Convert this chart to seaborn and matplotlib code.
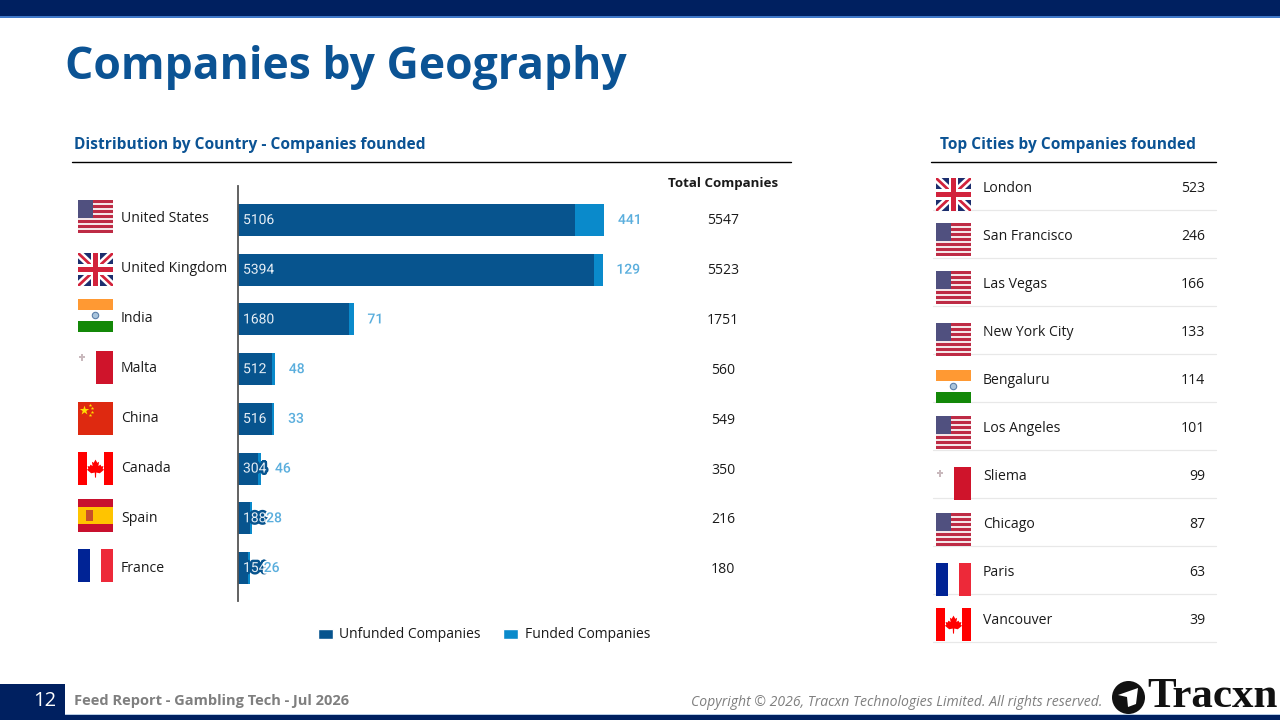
import matplotlib
matplotlib.use("Agg")
import matplotlib.pyplot as plt
import matplotlib.patheffects as pe
from matplotlib.patches import Rectangle, Circle, Polygon, Patch
from matplotlib.lines import Line2D
import pandas as pd
import seaborn as sns

countries = ["United States", "United Kingdom", "India", "Malta", "China", "Canada", "Spain", "France"]
unfunded = [5106, 5394, 1680, 512, 516, 304, 188, 154]
funded = [441, 129, 71, 48, 33, 46, 28, 26]
totals = [5547, 5523, 1751, 560, 549, 350, 216, 180]
cities = ["London", "San Francisco", "Las Vegas", "New York City", "Bengaluru",
          "Los Angeles", "Sliema", "Chicago", "Paris", "Vancouver"]
city_counts = [523, 246, 166, 133, 114, 101, 99, 87, 63, 39]
city_flags = ["uk", "us", "us", "us", "in", "us", "mt", "us", "fr", "ca"]
country_flags = ["us", "uk", "in", "mt", "cn", "ca", "es", "fr"]

NAVY = "#002060"
BLUE = "#07548E"
LIGHT = "#0A8ACB"
HEAD = "#0B5394"
LABEL = "#5AAEDD"
TXT = "#1a1a1a"

sns.set_theme(style="white")
plt.rcParams["font.family"] = ["Open Sans", "DejaVu Sans"]

fig = plt.figure(figsize=(12.8, 7.2), dpi=100, facecolor="white")
W, H = 1280, 720

bg = fig.add_axes([0, 0, 1, 1])
bg.set_xlim(0, W)
bg.set_ylim(H, 0)
bg.axis("off")


def rect(x, y, w, h, c, z=1, clip=None):
    r = Rectangle((x, y), w, h, fc=c, ec="none", zorder=z)
    bg.add_patch(r)
    if clip is not None:
        r.set_clip_path(clip)
    return r


def flag(kind, x, y, w=35, h=33):
    if kind == "us":
        for i in range(13):
            rect(x, y + i * h / 13, w, h / 13 + .1, "#BE2B45" if i % 2 == 0 else "#F4E6E8", 2)
        rect(x, y, w * .42, h * 7 / 13, "#50507F", 3)
    elif kind == "uk":
        clip = Rectangle((x, y), w, h, transform=bg.transData)
        rect(x, y, w, h, "#1C2E6E", 2)
        for (a, b, c, d) in ((x, y, x + w, y + h), (x, y + h, x + w, y)):
            for col, lw in (("white", 5.5), ("#D2233C", 2.0)):
                l = Line2D([a, c], [b, d], color=col, lw=lw, zorder=3, solid_capstyle="butt")
                bg.add_line(l)
                l.set_clip_path(clip)
        rect(x + w * .36, y, w * .28, h, "white", 4)
        rect(x, y + h * .34, w, h * .32, "white", 4)
        rect(x + w * .42, y, w * .16, h, "#D2233C", 5)
        rect(x, y + h * .41, w, h * .18, "#D2233C", 5)
    elif kind == "in":
        rect(x, y, w, h / 3, "#FF9933", 2)
        rect(x, y + h * 2 / 3, w, h / 3, "#138808", 2)
        bg.add_patch(Circle((x + w / 2, y + h / 2), 3.2, fc="#A9C4DC", ec="#5C7FA8", lw=.8, zorder=3))
    elif kind == "mt":
        rect(x + w * .5, y, w * .5, h, "#CF142B", 2)
        cx, cy = x + w * .1, y + h * .19
        rect(cx - 1, cy - 3.5, 2, 7, "#C9B9BD", 2)
        rect(cx - 3, cy - 1, 6, 2, "#C9B9BD", 2)
    elif kind == "cn":
        rect(x, y, w, h, "#DE2910", 2)
        bg.scatter([x + 6], [y + 8], marker="*", s=50, color="#FFDE00", lw=0, zorder=3)
        bg.scatter([x + 12, x + 14, x + 14, x + 12], [y + 3, y + 6, y + 10, y + 13],
                   marker="*", s=7, color="#FFDE00", lw=0, zorder=3)
    elif kind == "ca":
        rect(x, y, w * .27, h, "#FF0000", 2)
        rect(x + w * .73, y, w * .27, h, "#FF0000", 2)
        shape = [(0, -11), (2.5, -6.5), (5, -8), (4, -2), (7, -4), (8, -1.5), (11, -2), (10, 2), (12, 3),
                 (6, 8), (1, 7), (.7, 14), (-.7, 14), (-1, 7), (-6, 8), (-12, 3), (-10, 2), (-11, -2),
                 (-8, -1.5), (-7, -4), (-4, -2), (-5, -8), (-2.5, -6.5)]
        k = .72
        bg.add_patch(Polygon([(x + w / 2 + a * k, y + h * .47 + b * k) for a, b in shape],
                             fc="#FF0000", ec="none", zorder=3))
    elif kind == "es":
        rect(x, y, w, h, "#C8102E", 2)
        rect(x, y + h / 4, w, h / 2, "#FFC400", 3)
        rect(x + 8, y + 11, 7, 11, "#C8502A", 4)
    elif kind == "fr":
        rect(x, y, w / 3, h, "#002395", 2)
        rect(x + w * 2 / 3, y, w / 3, h, "#ED2939", 2)


# page furniture
rect(0, 0, W, 16, NAVY, 1)
rect(0, 16, W, 1.5, "#3F78C8", 1)
rect(0, 715, W, 5, NAVY, 1)
rect(65, 714, W - 65, 1, "#B8CCE4", 1)
rect(0, 684, 65, 31, NAVY, 2)
bg.text(65, 67, "Companies by Geography", fontsize=32, fontweight="bold", color=HEAD, va="center", ha="left")
bg.text(74, 145, "Distribution by Country - Companies founded", fontsize=11.2, fontweight="bold", color=HEAD, va="center")
bg.text(940, 145, "Top Cities by Companies founded", fontsize=11.2, fontweight="bold", color=HEAD, va="center")
bg.plot([72, 791], [162, 162], color="black", lw=1)
bg.plot([931, 1216], [162, 162], color="black", lw=1)
bg.text(723, 184, "Total Companies", fontsize=9.6, fontweight="bold", color=TXT, ha="center", va="center")

bg.text(45, 701, "12", fontsize=14.5, color="white", ha="center", va="center")
bg.text(74, 701, "Feed Report - Gambling Tech - Jul 2026", fontsize=10.5, fontweight="bold", color="#7F7F7F", va="center")
bg.text(1102, 702, "Copyright © 2026, Tracxn Technologies Limited. All rights reserved.", fontsize=10.05,
        style="italic", color="#7F7F7F", ha="right", va="center")
bg.add_patch(Circle((1128.5, 697.5), 16.5, fc="#111111", ec="none", zorder=3))
bg.add_patch(Polygon([(1118, 695), (1138, 688), (1136, 704), (1128, 707), (1127, 697)], fc="white", ec="none", zorder=4))
bg.text(1147, 697, "Tracxn", fontsize=31, fontweight="bold", family="Liberation Serif", color="#111111", va="center", ha="left")

# left column text and flags
label_y = [218.5, 268.5, 318.5, 368.5, 419, 469, 519, 569]
flag_y = [200, 253, 299, 351, 402, 452, 499, 549]
total_y = [220.5, 270.5, 320.5, 370, 420, 470, 519.5, 569.5]
for c, k, ly, fy, t, ty in zip(countries, country_flags, label_y, flag_y, totals, total_y):
    flag(k, 78, fy)
    bg.text(121, ly, c, fontsize=10.1, color=TXT, va="center", ha="left")
    bg.text(723, ty, str(t), fontsize=10.1, color=TXT, va="center", ha="center")

# right table
row_y = [189, 237, 285, 333, 381, 429, 477, 525, 573, 621]
city_flag_y = [178, 223, 271, 323, 370, 416, 467, 513, 563, 608]
sep_y = [210, 258, 306, 354, 402, 450, 498, 546, 594, 642]
for c, n, k, ry, fy, sy in zip(cities, city_counts, city_flags, row_y, city_flag_y, sep_y):
    flag(k, 936, fy)
    bg.text(983, ry, c, fontsize=10.1, color=TXT, va="center", ha="left")
    bg.text(1205, ry, str(n), fontsize=10.1, color=TXT, va="center", ha="right")
    bg.plot([933, 1216], [sy, sy], color="#E8E8E8", lw=.9, zorder=1)

# chart
left, right, top, bottom = 238, 791, 186, 601
ax = fig.add_axes([left / W, 1 - bottom / H, (right - left) / W, (bottom - top) / H])
ax.patch.set_alpha(0)
df = pd.DataFrame({"Country": countries, "Unfunded": unfunded, "Funded": funded, "Total": totals})
sns.barplot(data=df, y="Country", x="Total", color=LIGHT, saturation=1, width=.644, linewidth=0, ax=ax)
sns.barplot(data=df, y="Country", x="Unfunded", color=BLUE, saturation=1, width=.644, linewidth=0, ax=ax)
ax.set_xlim(0, (right - left) / .066)
ax.set_ylim(7.664, -.684)
ax.set_xlabel("")
ax.set_ylabel("")
ax.set_xticks([])
ax.set_yticks([])
for s in ("top", "right", "bottom"):
    ax.spines[s].set_visible(False)
ax.spines["left"].set_color("#555555")
ax.spines["left"].set_linewidth(1.3)

for i, (u, f, t) in enumerate(zip(unfunded, funded, totals)):
    ax.annotate(str(u), (0, i), xytext=(3.6, 0), textcoords="offset points", color="#E6EEF5", fontsize=10,
                family="Roboto", va="center", ha="left", zorder=5,
                path_effects=[pe.withStroke(linewidth=3.5, foreground=BLUE)])
    ax.annotate(str(f), (t, i), xytext=(10, 0), textcoords="offset points", color=LABEL, fontsize=10,
                family="Roboto", fontweight="medium", va="center", ha="left", zorder=6,
                path_effects=[pe.withStroke(linewidth=2.5, foreground="white")])

handles = [Patch(fc=BLUE, label="Unfunded Companies"), Patch(fc=LIGHT, label="Funded Companies")]
fig.legend(handles=handles, loc="center", bbox_to_anchor=(484 / W, 1 - 635 / H), ncol=2, frameon=False,
           fontsize=10, handlelength=1.1, handleheight=.7, handletextpad=.45, columnspacing=1.6,
           labelcolor=TXT)

fig.savefig("out.png", dpi=100)
